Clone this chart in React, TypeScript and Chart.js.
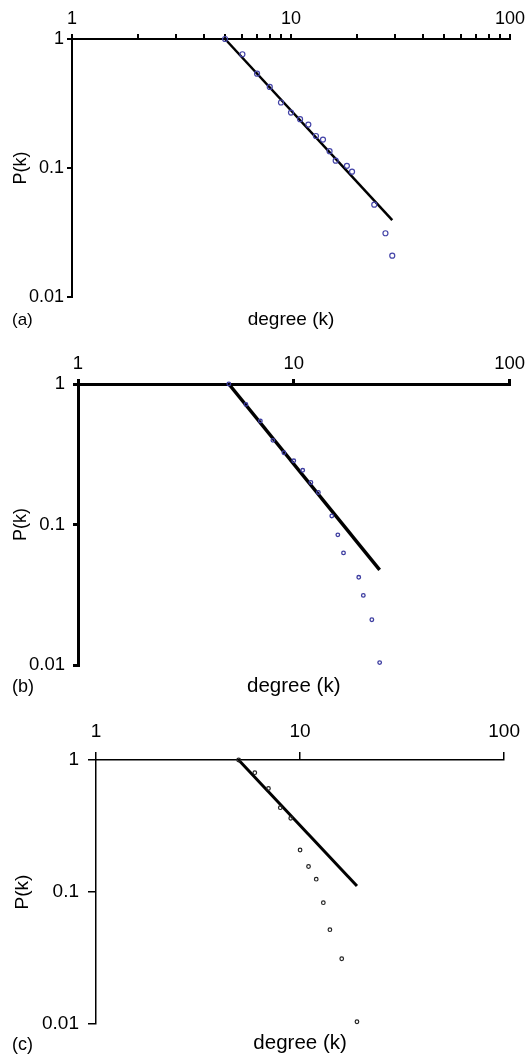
import React, { useEffect, useRef } from 'react';
import { Chart, registerables } from 'chart.js';

Chart.register(...registerables);

// ---- Data ----
const degreeA = [5, 6, 7, 8, 9, 10, 11, 12, 13, 14, 15, 16, 18, 19, 24, 27, 29];
const probA = [1.0, 0.762, 0.539, 0.425, 0.322, 0.269, 0.239, 0.217, 0.177, 0.166, 0.135, 0.114, 0.104, 0.0936, 0.052, 0.0312, 0.0209];
const fitDegreeA = [5, 29];
const fitProbA = [1.0, 0.0394];

const degreeB = [5, 6, 7, 8, 9, 10, 11, 12, 13, 15, 16, 17, 20, 21, 23, 25];
const probB = [1.0, 0.716, 0.545, 0.397, 0.324, 0.284, 0.243, 0.199, 0.169, 0.115, 0.0844, 0.0628, 0.0421, 0.0313, 0.021, 0.0104];
const fitDegreeB = [5, 25];
const fitProbB = [1.0, 0.0475];

const degreeC = [5, 6, 7, 8, 9, 10, 11, 12, 13, 14, 16, 19];
const probC = [1.0, 0.801, 0.609, 0.435, 0.362, 0.208, 0.156, 0.125, 0.083, 0.0518, 0.0312, 0.0104];
const fitDegreeC = [5, 19];
const fitProbC = [1.0, 0.111];

// Tick values / labels
const xTicksMinor = [1, 2, 3, 4, 5, 6, 7, 8, 9, 10, 20, 30, 40, 50, 60, 70, 80, 90, 100];
const xTicksMajor = [1, 10, 100];
const yTicks = [0.01, 0.1, 1];
const xLabelValues = [1, 10, 100];

const xAxisTitle = 'degree (k)';
const yAxisTitle = 'P(k)';
const panelLetters = ['(a)', '(b)', '(c)'];

const FONT = "'Liberation Sans', Arial, Helvetica, sans-serif";

type Spec = {
  letter: string;
  k: number[];
  p: number[];
  fk: number[];
  fp: number[];
  xTicks: number[];
  canvasTop: number;
  canvasH: number;
  area: { left: number; right: number; top: number; bottom: number };
  axisW: number;
  tickLen: number;
  xPad: number;
  yPad: number;
  tickFont: number;
  titleFont: number;
  titlePad: number;
  degreeFont: number;
  degreeY: number;
  letterFont: number;
  letterX: number;
  letterY: number;
  fitW: number;
  ptR: number;
  ptBW: number;
  ptColor: string;
};

const specs: Spec[] = [
  {
    letter: panelLetters[0], k: degreeA, p: probA, fk: fitDegreeA, fp: fitProbA, xTicks: xTicksMinor,
    canvasTop: 0, canvasH: 335, area: { left: 72, right: 510, top: 39, bottom: 297 },
    axisW: 2, tickLen: 5, xPad: 4, yPad: 3, tickFont: 18, titleFont: 18, titlePad: 10,
    degreeFont: 19, degreeY: 320, letterFont: 17, letterX: 12, letterY: 320,
    fitW: 2.5, ptR: 2.5, ptBW: 1.2, ptColor: '#4444a8',
  },
  {
    letter: panelLetters[1], k: degreeB, p: probB, fk: fitDegreeB, fp: fitProbB, xTicks: xTicksMajor,
    canvasTop: 335, canvasH: 365, area: { left: 78, right: 510, top: 384, bottom: 665 },
    axisW: 3, tickLen: 5, xPad: 4, yPad: 8, tickFont: 18.5, titleFont: 18, titlePad: 10,
    degreeFont: 20.5, degreeY: 686, letterFont: 18, letterX: 12, letterY: 687,
    fitW: 3.5, ptR: 1.8, ptBW: 1.3, ptColor: '#3c3ca0',
  },
  {
    letter: panelLetters[2], k: degreeC, p: probC, fk: fitDegreeC, fp: fitProbC, xTicks: xTicksMajor,
    canvasTop: 700, canvasH: 357, area: { left: 96, right: 510, top: 760, bottom: 1024 },
    axisW: 1.5, tickLen: 8, xPad: 9, yPad: 9, tickFont: 19, titleFont: 19, titlePad: 11,
    degreeFont: 20.5, degreeY: 1043, letterFont: 18, letterX: 12, letterY: 1045,
    fitW: 3, ptR: 1.8, ptBW: 1.2, ptColor: '#222222',
  },
];

const panelLabelsPlugin = {
  id: 'panelLabels',
  afterDraw(chart: any, _args: any, opts: any) {
    const ctx = chart.ctx;
    const ca = chart.chartArea;
    ctx.save();
    ctx.fillStyle = '#000';
    ctx.textBaseline = 'middle';
    ctx.font = `${opts.degreeFont}px ${FONT}`;
    ctx.textAlign = 'center';
    ctx.fillText(opts.xTitle, (ca.left + ca.right) / 2, opts.degreeY);
    ctx.font = `${opts.letterFont}px ${FONT}`;
    ctx.textAlign = 'left';
    ctx.fillText(opts.letter, opts.letterX, opts.letterY);
    ctx.restore();
  },
};

function Panel({ spec }: { spec: Spec }) {
  const ref = useRef<HTMLCanvasElement>(null);
  useEffect(() => {
    const s = spec;
    const xH = s.area.top - s.canvasTop;
    const yW = s.area.left;
    const padRight = 529 - s.area.right;
    const padBottom = s.canvasTop + s.canvasH - s.area.bottom;
    const chart = new Chart(ref.current as HTMLCanvasElement, {
      type: 'scatter',
      data: {
        datasets: [
          {
            data: s.k.map((x, i) => ({ x, y: s.p[i] })),
            pointStyle: 'circle',
            pointRadius: s.ptR,
            pointBorderWidth: s.ptBW,
            pointBorderColor: s.ptColor,
            pointBackgroundColor: 'rgba(255,255,255,0)',
            showLine: false,
            clip: false,
          } as any,
          {
            data: s.fk.map((x, i) => ({ x, y: s.fp[i] })),
            showLine: true,
            borderColor: '#000',
            borderWidth: s.fitW,
            pointRadius: 0,
            fill: false,
            tension: 0,
            clip: false,
          } as any,
        ],
      },
      options: {
        responsive: false,
        animation: false,
        events: [],
        layout: { padding: { top: 0, left: 0, right: padRight, bottom: padBottom } },
        plugins: {
          legend: { display: false },
          tooltip: { enabled: false },
          panelLabels: {
            xTitle: xAxisTitle,
            letter: s.letter,
            degreeFont: s.degreeFont,
            degreeY: s.degreeY - s.canvasTop,
            letterFont: s.letterFont,
            letterX: s.letterX,
            letterY: s.letterY - s.canvasTop,
          },
        } as any,
        scales: {
          x: {
            type: 'logarithmic',
            position: 'top',
            min: 1,
            max: 100,
            afterFit: (sc: any) => { sc.height = xH; },
            afterBuildTicks: (sc: any) => { sc.ticks = s.xTicks.map((v) => ({ value: v })); },
            grid: {
              display: true,
              drawOnChartArea: false,
              drawTicks: true,
              tickLength: s.tickLen,
              color: '#000',
              lineWidth: s.axisW,
            },
            border: { display: true, color: '#000', width: s.axisW },
            ticks: {
              autoSkip: false,
              maxRotation: 0,
              minRotation: 0,
              padding: s.xPad,
              color: '#000',
              font: { family: FONT, size: s.tickFont },
              callback: (v: any) => (xLabelValues.includes(Number(v)) ? String(v) : ''),
            },
          },
          y: {
            type: 'logarithmic',
            position: 'left',
            min: 0.01,
            max: 1,
            afterFit: (sc: any) => { sc.width = yW; },
            afterBuildTicks: (sc: any) => { sc.ticks = yTicks.map((v) => ({ value: v })); },
            grid: {
              display: true,
              drawOnChartArea: false,
              drawTicks: true,
              tickLength: s.tickLen,
              color: '#000',
              lineWidth: s.axisW,
            },
            border: { display: true, color: '#000', width: s.axisW },
            ticks: {
              autoSkip: false,
              padding: s.yPad,
              color: '#000',
              font: { family: FONT, size: s.tickFont },
              callback: (v: any) => String(v),
            },
            title: {
              display: true,
              text: yAxisTitle,
              color: '#000',
              font: { family: FONT, size: s.titleFont },
              padding: { top: s.titlePad, bottom: 0 },
            },
          },
        },
      } as any,
      plugins: [panelLabelsPlugin as any],
    });
    return () => chart.destroy();
  }, [spec]);
  return (
    <canvas
      ref={ref}
      width={529}
      height={spec.canvasH}
      style={{ position: 'absolute', left: 0, top: spec.canvasTop, width: 529, height: spec.canvasH }}
    />
  );
}

export default function App() {
  return (
    <div style={{ position: 'absolute', left: 0, top: 0, width: 529, height: 1057, background: '#fff' }}>
      {specs.map((s) => (
        <Panel key={s.letter} spec={s} />
      ))}
    </div>
  );
}
